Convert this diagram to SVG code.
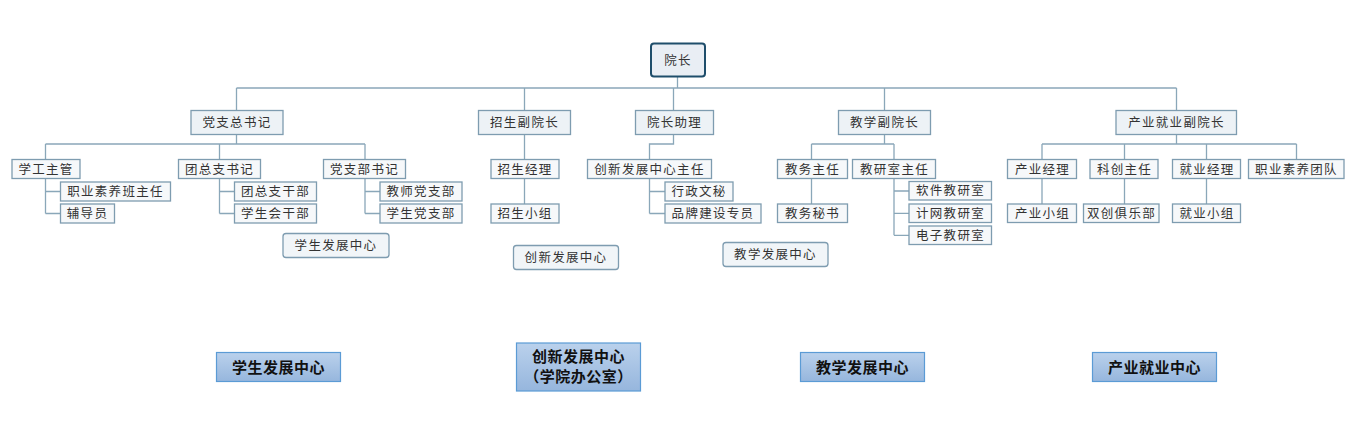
<svg xmlns="http://www.w3.org/2000/svg" width="1364" height="431" viewBox="0 0 1364 431">
<defs>
<linearGradient id="bg" x1="0" y1="0" x2="0" y2="1">
<stop offset="0" stop-color="#BAD1EC"/>
<stop offset="1" stop-color="#96B6DD"/>
</linearGradient>
<style>
.n rect{fill:#F6F8FA;stroke:#7E9CB0;stroke-width:1.3}
.l1 rect{fill:#EDF2F6}
.c rect{fill:#F1F5F8;rx:3}
.n text{font-family:"Noto Sans CJK SC","Liberation Sans",sans-serif;font-size:12.5px;letter-spacing:1.3px;fill:#333;text-anchor:middle}
.b rect{fill:url(#bg);stroke:#5B9BD5;stroke-width:1.2}
.b text{font-family:"Noto Sans CJK SC","Liberation Sans",sans-serif;font-size:15px;font-weight:bold;fill:#111;text-anchor:middle;letter-spacing:0.5px}
#connectors path{fill:none;stroke:#8AA7B9;stroke-width:1.3}
</style>
</defs>
<rect width="1364" height="431" fill="#fff"/>
<g id="connectors">
<path d="M677.5 77V88M236.5 88H1176.5M236.5 88V110M524.5 88V110M673.5 88V110M884.5 88V110M1176.5 88V110"/>
<path d="M236.5 134V144M45.5 144H365M45.5 144V159M219.5 144V159M365 144V159"/>
<path d="M45.5 178V213.5M45.5 191.5H60M45.5 213.5H60"/>
<path d="M219.5 178V213.5M219.5 191.5H234M219.5 213.5H234"/>
<path d="M365 178V213.5M365 191.5H380M365 213.5H380"/>
<path d="M524.5 134V159M524.5 178V204"/>
<path d="M673.5 134V144H649.5V159M649.5 178V213.5M649.5 191.5H665M649.5 213.5H665"/>
<path d="M884.5 134V144M811.5 144H894M811.5 144V159M894 144V159M811.5 178V204"/>
<path d="M894 178V235.3M894 191H909M894 213.3H909M894 235.3H909"/>
<path d="M1176.5 134V144M1042 144H1296.5M1042 144V159M1124.5 144V159M1206.5 144V159M1296.5 144V159"/>
<path d="M1042 178V204M1124.5 178V204M1206.5 178V204"/>
</g>
<g id="n-yuanzhang" class="n l1"><rect x="651" y="43.5" width="54" height="33" rx="3" style="stroke:#1F4E6B;stroke-width:2;fill:#E9EEF4"/><text x="678" y="64.5">院长</text></g>

<g id="n-dzzsj" class="n l1"><rect x="191" y="110.5" width="92" height="24"/><text x="237" y="127">党支总书记</text></g>
<g id="n-zsfyz" class="n l1"><rect x="478.5" y="110.5" width="92" height="24"/><text x="524.5" y="127">招生副院长</text></g>
<g id="n-yzzl" class="n l1"><rect x="635.5" y="110.5" width="78" height="24"/><text x="674.5" y="127">院长助理</text></g>
<g id="n-jxfyz" class="n l1"><rect x="838.5" y="110.5" width="92" height="24"/><text x="884.5" y="127">教学副院长</text></g>
<g id="n-cyjyfyz" class="n l1"><rect x="1116" y="110.5" width="120.5" height="24"/><text x="1176.5" y="127">产业就业副院长</text></g>

<g id="n-xgzg" class="n"><rect x="12" y="159.5" width="68" height="19"/><text x="46" y="173.5">学工主管</text></g>
<g id="n-zysybzr" class="n"><rect x="60.5" y="182" width="110" height="19"/><text x="115.5" y="196">职业素养班主任</text></g>
<g id="n-fdy" class="n"><rect x="60.5" y="204" width="54" height="19"/><text x="87.5" y="218">辅导员</text></g>
<g id="n-tzzsj" class="n"><rect x="178.5" y="159.5" width="82" height="19"/><text x="219.5" y="173.5">团总支书记</text></g>
<g id="n-tzzgb" class="n"><rect x="234.5" y="182" width="82" height="19"/><text x="275.5" y="196">团总支干部</text></g>
<g id="n-xshgb" class="n"><rect x="234.5" y="204" width="82" height="19"/><text x="275.5" y="218">学生会干部</text></g>
<g id="n-dzbsj" class="n"><rect x="323.5" y="159.5" width="82" height="19"/><text x="364.5" y="173.5">党支部书记</text></g>
<g id="n-jsdzb" class="n"><rect x="380" y="182" width="82" height="19"/><text x="421" y="196">教师党支部</text></g>
<g id="n-xsdzb" class="n"><rect x="380" y="204" width="82" height="19"/><text x="421" y="218">学生党支部</text></g>
<g id="n-xsfzzx" class="n c"><rect x="283" y="233.5" width="106" height="24"/><text x="336" y="250">学生发展中心</text></g>

<g id="n-zsjl" class="n"><rect x="491" y="159.5" width="68" height="19"/><text x="525" y="173.5">招生经理</text></g>
<g id="n-zsxz" class="n"><rect x="491" y="204" width="68" height="19"/><text x="525" y="218">招生小组</text></g>
<g id="n-cxfzzxzr" class="n"><rect x="587.5" y="159.5" width="124" height="19"/><text x="649.5" y="173.5">创新发展中心主任</text></g>
<g id="n-xzwm" class="n"><rect x="665" y="182" width="68" height="19"/><text x="699" y="196">行政文秘</text></g>
<g id="n-ppjszy" class="n"><rect x="665" y="204" width="96" height="19"/><text x="713" y="218">品牌建设专员</text></g>
<g id="n-cxfzzx" class="n c"><rect x="513.5" y="245.5" width="105" height="24"/><text x="566" y="262">创新发展中心</text></g>
<g id="n-jxfzzx" class="n c"><rect x="723" y="242.5" width="105" height="24"/><text x="775.5" y="259">教学发展中心</text></g>

<g id="n-jwzr" class="n"><rect x="777.5" y="159.5" width="70" height="19"/><text x="812.5" y="173.5">教务主任</text></g>
<g id="n-jwms" class="n"><rect x="777.5" y="204" width="70" height="18.5"/><text x="812.5" y="218">教务秘书</text></g>
<g id="n-jyszr" class="n"><rect x="852.5" y="159.5" width="83" height="19"/><text x="894.5" y="173.5">教研室主任</text></g>
<g id="n-rjjys" class="n"><rect x="909" y="181.5" width="82.5" height="18.5"/><text x="950.5" y="195">软件教研室</text></g>
<g id="n-jwjys" class="n"><rect x="909" y="204" width="82.5" height="18.5"/><text x="950.5" y="217.5">计网教研室</text></g>
<g id="n-dzjys" class="n"><rect x="909" y="226" width="82.5" height="18.5"/><text x="950.5" y="239.5">电子教研室</text></g>

<g id="n-cyjl" class="n"><rect x="1007.5" y="159.5" width="69" height="19"/><text x="1042.5" y="173.5">产业经理</text></g>
<g id="n-cyxz" class="n"><rect x="1007.5" y="204" width="69" height="18.5"/><text x="1042.5" y="218">产业小组</text></g>
<g id="n-kczr" class="n"><rect x="1090" y="159.5" width="68" height="19"/><text x="1124.5" y="173.5">科创主任</text></g>
<g id="n-scjlb" class="n"><rect x="1083.5" y="204" width="75.5" height="18.5"/><text x="1121.5" y="218">双创俱乐部</text></g>
<g id="n-jyjl" class="n"><rect x="1172.5" y="159.5" width="68" height="19"/><text x="1207" y="173.5">就业经理</text></g>
<g id="n-jyxz" class="n"><rect x="1172.5" y="204" width="68" height="18.5"/><text x="1207" y="218">就业小组</text></g>
<g id="n-zysytd" class="n"><rect x="1248.5" y="159.5" width="95.5" height="19"/><text x="1296.5" y="173.5">职业素养团队</text></g>

<g id="b-xsfzzx" class="b"><rect x="216.5" y="352.5" width="124" height="29"/><text x="278.5" y="372.5">学生发展中心</text></g>
<g id="b-cxfzzx" class="b"><rect x="516.5" y="343" width="124" height="48"/><text x="578.5" y="362">创新发展中心</text><text x="578.5" y="382">（学院办公室）</text></g>
<g id="b-jxfzzx" class="b"><rect x="800.5" y="352.5" width="124" height="29"/><text x="862.5" y="372.5">教学发展中心</text></g>
<g id="b-cyjyzx" class="b"><rect x="1092.5" y="352.5" width="124" height="29"/><text x="1154.5" y="372.5">产业就业中心</text></g>
</svg>
